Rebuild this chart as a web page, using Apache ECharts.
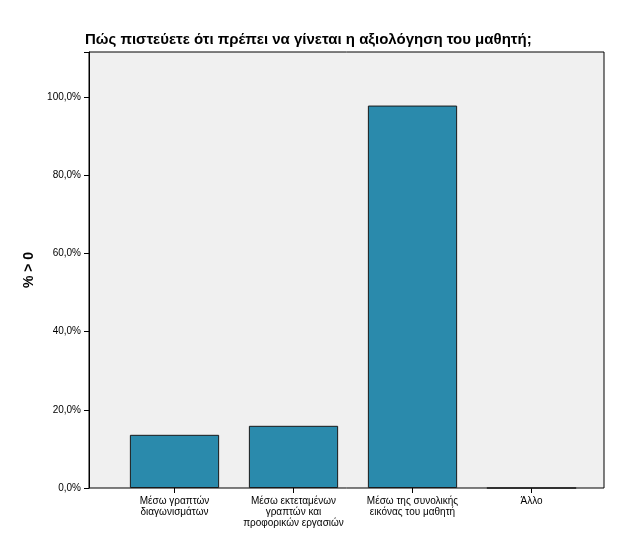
<!DOCTYPE html><html><head><meta charset="utf-8"><script src="https://cdn.jsdelivr.net/npm/echarts@6/dist/echarts.min.js"></script></head><body style="margin:0;background:#fff"><div id="c" style="width:629px;height:544px"></div><script>
const categories=["Μέσω γραπτών\nδιαγωνισμάτων","Μέσω εκτεταμένων\nγραπτών και\nπροφορικών εργασιών","Μέσω της συνολικής\nεικόνας του μαθητή","Άλλο"];
const values=[13.6,15.9,97.8,0];
const yTicks=[0,20,40,60,80,100];
const lbl={fontFamily:"Liberation Sans",fontSize:10,color:'#000'};
const ch=echarts.init(document.getElementById('c'));
ch.setOption({animation:false,
title:{text:"Πώς πιστεύετε ότι πρέπει να γίνεται η αξιολόγηση του μαθητή;",left:80,top:27,textStyle:{fontFamily:"Liberation Sans",fontSize:15,fontWeight:'bold',color:'#000'}},
grid:[{left:89,right:25,top:52,bottom:56,backgroundColor:'#f0f0f0',show:true,borderColor:'#000',borderWidth:1},
      {left:115,right:38,top:52,bottom:56}],
xAxis:[{type:'value',gridIndex:0,show:false,min:0,max:1},
 {type:'category',gridIndex:1,data:categories,axisLine:{show:false},axisTick:{show:true,alignWithLabel:true,length:5,lineStyle:{color:'#000'}},axisLabel:Object.assign({lineHeight:11,margin:8,interval:0},lbl)}],
yAxis:[{type:'value',gridIndex:0,min:0,max:111.5,interval:20,name:'% > 0',nameLocation:'middle',nameGap:52,nameTextStyle:{fontFamily:"Liberation Sans",fontSize:14,fontWeight:'bold',color:'#000'},splitLine:{show:false},axisLine:{show:true,lineStyle:{color:'#000'}},axisTick:{show:true,length:5,lineStyle:{color:'#000'}},axisLabel:Object.assign({formatter:v=>yTicks.includes(v)?v.toFixed(1).replace('.',',')+'%':''},lbl)},
 {type:'value',gridIndex:1,min:0,max:111.5,show:false}],
series:[{type:'bar',xAxisIndex:1,yAxisIndex:1,data:values,barWidth:'75%',itemStyle:{color:'#2a8aac',borderColor:'#1a1a1a',borderWidth:1}}]});
</script></body></html>
